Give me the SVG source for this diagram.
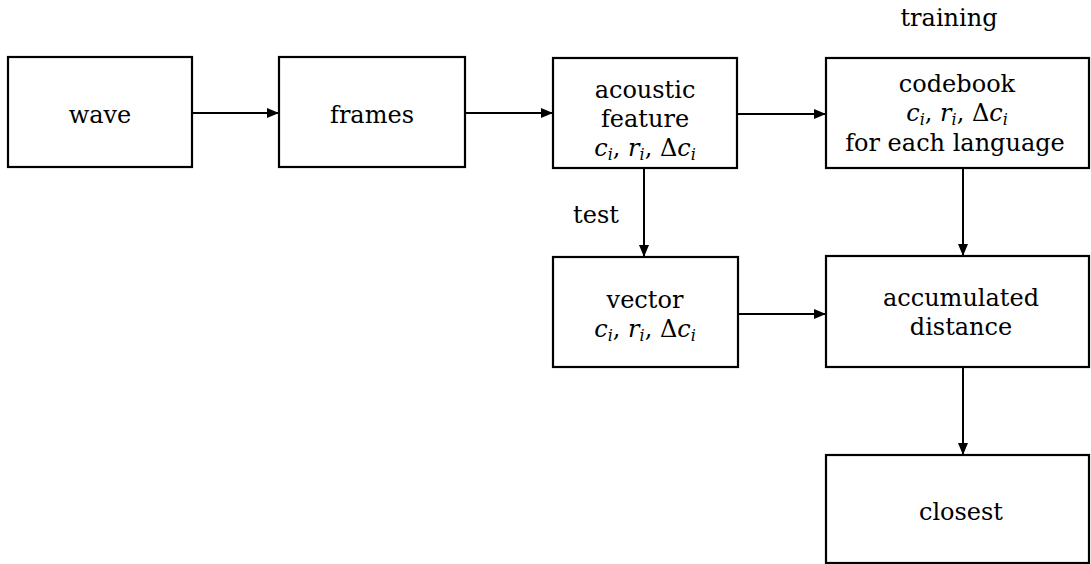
<svg xmlns="http://www.w3.org/2000/svg" width="1091" height="564" viewBox="0 0 1091 564">
<style>
.box{fill:#fff;stroke:#000;stroke-width:2.2}
.t{font-family:'DejaVu Serif','Liberation Serif',serif;font-size:24px;fill:#000;text-anchor:middle}
.m{font-style:italic}
.s{font-size:16px;font-style:italic}
.c{stroke:#000;stroke-width:2;fill:none}
</style>
<defs>
<marker id="ah" viewBox="0 0 12 10" refX="12" refY="5" markerWidth="12" markerHeight="10" markerUnits="userSpaceOnUse" orient="auto">
<path d="M0,0 L12,5 L0,10 Z" fill="#000"/>
</marker>
</defs>
<rect width="1091" height="564" fill="#fff"/>
<g id="connectors">
<line class="c" x1="192" y1="113" x2="279" y2="113" marker-end="url(#ah)"/>
<line class="c" x1="465" y1="113" x2="553" y2="113" marker-end="url(#ah)"/>
<line class="c" x1="737" y1="114" x2="826" y2="114" marker-end="url(#ah)"/>
<line class="c" x1="644" y1="168" x2="644" y2="257" marker-end="url(#ah)"/>
<line class="c" x1="963" y1="168" x2="963" y2="256" marker-end="url(#ah)"/>
<line class="c" x1="738" y1="314" x2="826" y2="314" marker-end="url(#ah)"/>
<line class="c" x1="963" y1="367" x2="963" y2="455" marker-end="url(#ah)"/>
<text class="t" x="596" y="223">test</text>
<text class="t" x="949" y="26">training</text>
</g>
<g id="wave">
<rect class="box" x="8" y="57" width="184" height="110"/>
<text class="t" x="100" y="123">wave</text>
</g>
<g id="frames">
<rect class="box" x="279" y="57" width="186" height="110"/>
<text class="t" x="372" y="123">frames</text>
</g>
<g id="acoustic">
<rect class="box" x="553" y="58" width="184" height="110"/>
<text class="t" x="645" y="98">acoustic</text>
<text class="t" x="645" y="127">feature</text>
<text class="t" x="645" y="156"><tspan class="m">c</tspan><tspan class="s" dy="4">i</tspan><tspan dy="-4">, </tspan><tspan class="m">r</tspan><tspan class="s" dy="4">i</tspan><tspan dy="-4">, Δ</tspan><tspan class="m">c</tspan><tspan class="s" dy="4">i</tspan></text>
</g>
<g id="codebook">
<rect class="box" x="826" y="58" width="263" height="110"/>
<text class="t" x="957" y="92">codebook</text>
<text class="t" x="957" y="121"><tspan class="m">c</tspan><tspan class="s" dy="4">i</tspan><tspan dy="-4">, </tspan><tspan class="m">r</tspan><tspan class="s" dy="4">i</tspan><tspan dy="-4">, Δ</tspan><tspan class="m">c</tspan><tspan class="s" dy="4">i</tspan></text>
<text class="t" x="955" y="151">for each language</text>
</g>
<g id="vector">
<rect class="box" x="553" y="257" width="185" height="110"/>
<text class="t" x="645" y="308">vector</text>
<text class="t" x="645" y="337"><tspan class="m">c</tspan><tspan class="s" dy="4">i</tspan><tspan dy="-4">, </tspan><tspan class="m">r</tspan><tspan class="s" dy="4">i</tspan><tspan dy="-4">, Δ</tspan><tspan class="m">c</tspan><tspan class="s" dy="4">i</tspan></text>
</g>
<g id="accumulated">
<rect class="box" x="826" y="256" width="263" height="111"/>
<text class="t" x="961" y="306">accumulated</text>
<text class="t" x="961" y="335">distance</text>
</g>
<g id="closest">
<rect class="box" x="826" y="455" width="263" height="108"/>
<text class="t" x="961" y="520">closest</text>
</g>
</svg>
